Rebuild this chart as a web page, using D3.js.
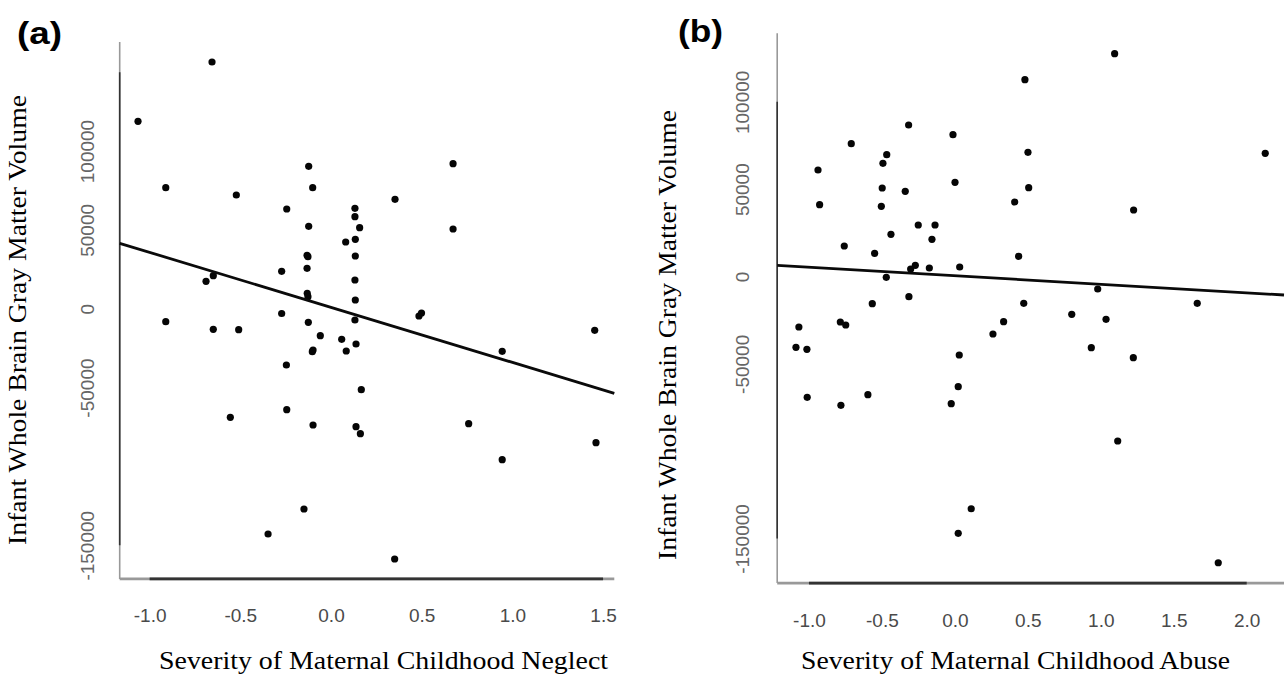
<!DOCTYPE html>
<html>
<head>
<meta charset="utf-8">
<script src="https://cdn.jsdelivr.net/npm/d3@7"></script>
<style>
body { margin: 0; background: #fff; }
</style>
</head>
<body>
<script>
// (a) neglect
var neglectX = [-0.656,-1.064,-0.911,-0.522,-0.123,-0.101,-0.244,0.132,0.132,0.158,-0.123,0.081,0.134,-0.132,-0.127,0.134,
    -0.272,-0.132,-0.649,-0.689,0.132,-0.131,-0.127,0.134,-0.272,0.673,0.353,0.673,0.485,0.499,-0.911,-0.649,-0.509,-0.125,
    0.132,-0.059,0.059,0.138,-0.099,-0.103,0.084,-0.246,0.167,-0.244,-0.555,-0.099,0.138,0.162,-0.149,-0.347,1.454,0.944,
    0.759,1.461,0.944,0.351];
var neglectY = [156460,118850,76740,72110,90310,76740,63230,63670,58350,51370,52260,42300,44010,33870,32980,33420,
    23720,25620,20930,17380,18200,9770,7610,5520,-3040,91960,69380,50550,-4630,-2730,-8240,-13060,-13320,-8630,
    -7170,-17120,-19410,-22390,-26190,-27270,-26830,-35700,-51370,-64050,-68870,-73760,-74830,-79270,-127030,-142880,-13700,-27020,
    -72930,-84980,-95760,-158740];
var neglectFit = [840, -34885]; //intercept, slope

// (b) abuse
var abuseX = [0.480,-0.317,-0.013,-0.710,-0.467,-0.493,-0.938,0.501,-0.498,-0.340,0.001,0.506,-0.927,-0.504,0.410,-0.251,
    -0.136,-0.438,-0.157,-0.758,-0.550,0.437,-0.271,-0.303,-0.175,0.033,-0.470,-0.315,-0.566,0.472,1.095,2.127,1.225,0.979,
    1.661,-1.069,-0.785,-0.748,-1.089,-1.014,0.334,0.261,0.030,0.023,-0.025,-1.012,-0.781,-0.596,0.112,0.023,0.801,1.036,
    0.935,1.223,1.116,1.805];
var abuseY = [112690,86750,81200,76040,69740,64820,60980,71120,50680,48790,53940,50850,41110,40200,42660,29490,
    29490,24160,21300,17460,13280,11570,6410,4290,4870,5440,-460,-11570,-15570,-15350,127580,70540,38080,-7160,
    -15350,-28920,-26050,-27770,-40540,-41690,-25880,-32920,-44950,-63100,-72830,-69170,-73750,-67680,-132960,-147050,-21640,-24510,
    -40770,-46500,-94190,-163880];
var abuseFit = [450, -4893];

var xTicksA = [-1.0, -0.5, 0.0, 0.5, 1.0, 1.5];
var xTicksB = [-1.0, -0.5, 0.0, 0.5, 1.0, 1.5, 2.0];
var yLabels = [-150000, -50000, 0, 50000, 100000];
var yAxisSpanA = [-150000, 150000];
var yAxisSpanB = [-150000, 100000];

function ScatterPanel() {
    var _svg = undefined;

    //R style: data range padded by 4% on each side.
    var _padDomain = function(values) {
        var ext = d3.extent(values);
        var pad = (ext[1] - ext[0]) * 0.04;
        return [ext[0] - pad, ext[1] + pad];
    };//EndFunction.

    function build(svg, opt) {
        _svg = svg;
        var x = d3.scaleLinear().domain(_padDomain(opt.xs)).range([opt.left, opt.right]);
        var y = d3.scaleLinear().domain(_padDomain(opt.ys)).range([opt.bottom, opt.top]);
        var g = _svg.append("g");

        //L frame, light where it runs past the ticks.
        g.append("line").attr("x1", opt.left).attr("y1", opt.top).attr("x2", opt.left).attr("y2", opt.bottom)
            .style("stroke", "#999").style("stroke-width", 1.6);
        g.append("line").attr("x1", opt.left).attr("y1", opt.bottom).attr("x2", opt.right).attr("y2", opt.bottom)
            .style("stroke", "#999").style("stroke-width", 2.6);
        g.append("line").attr("x1", opt.left).attr("y1", y(opt.ySpan[0])).attr("x2", opt.left).attr("y2", y(opt.ySpan[1]))
            .style("stroke", "#333").style("stroke-width", 1.6);
        g.append("line").attr("x1", x(opt.xTicks[0])).attr("y1", opt.bottom)
            .attr("x2", x(opt.xTicks[opt.xTicks.length - 1])).attr("y2", opt.bottom)
            .style("stroke", "#333").style("stroke-width", 2.6);

        //X AXIS.
        var xa = g.append("g").attr("transform", "translate(0," + opt.bottom + ")")
            .call(d3.axisBottom(x).tickValues(opt.xTicks).tickSize(0).tickPadding(opt.xPad)
                .tickFormat(function(d) { return d.toFixed(1); }));
        xa.select(".domain").remove();
        xa.selectAll("text").attr("font-family", "'Liberation Sans', Arial, sans-serif")
            .attr("font-size", "19px").attr("fill", "#4a4a4a");

        //Y AXIS (labels turned).
        var ya = g.append("g").attr("transform", "translate(" + opt.left + ",0)")
            .call(d3.axisLeft(y).tickValues(yLabels).tickSize(0).tickFormat(function(d) { return String(d); }));
        ya.select(".domain").remove();
        ya.selectAll("text").attr("x", null).attr("dy", null).attr("text-anchor", "middle")
            .attr("transform", "translate(" + (-opt.yPad) + ",0) rotate(-90)")
            .attr("font-family", "'Liberation Sans', Arial, sans-serif")
            .attr("font-size", "19px").attr("fill", "#666");

        //POINTS.
        var pts = opt.xs.map(function(v, i) { return { x: v, y: opt.ys[i] }; });
        g.selectAll("circle.pt").data(pts).enter().append("circle").attr("class", "pt")
            .attr("cx", function(d) { return x(d.x); }).attr("cy", function(d) { return y(d.y); })
            .attr("r", 3.6).style("fill", "#050505");

        //FIT LINE.
        var x0 = x.domain()[0], x1 = x.domain()[1];
        g.append("line")
            .attr("x1", x(x0)).attr("y1", y(opt.fit[0] + opt.fit[1] * x0))
            .attr("x2", x(x1)).attr("y2", y(opt.fit[0] + opt.fit[1] * x1))
            .style("stroke", "#0a0a0a").style("stroke-width", 2.8);

        //TITLES.
        g.append("text").text(opt.xTitle).attr("x", opt.xTitlePos[0]).attr("y", opt.xTitlePos[1])
            .attr("text-anchor", "middle").attr("font-family", "'Liberation Serif', 'Times New Roman', serif")
            .attr("font-size", "26px").attr("textLength", opt.xTitleLen).attr("lengthAdjust", "spacingAndGlyphs");
        g.append("text").text("Infant Whole Brain Gray Matter Volume")
            .attr("transform", "translate(" + opt.yTitlePos[0] + "," + opt.yTitlePos[1] + ") rotate(-90)")
            .attr("text-anchor", "middle").attr("font-family", "'Liberation Serif', 'Times New Roman', serif")
            .attr("font-size", "26px").attr("textLength", 450).attr("lengthAdjust", "spacingAndGlyphs");
        g.append("text").text(opt.tag).attr("x", opt.tagPos[0]).attr("y", opt.tagPos[1])
            .attr("font-family", "'Liberation Sans', Arial, sans-serif").attr("font-weight", "bold")
            .attr("font-size", "32px").attr("textLength", 45).attr("lengthAdjust", "spacingAndGlyphs");
    }//EndFunction.

    return build;
}//EndVizLibrary.

var svg = d3.select("body").append("svg").attr("width", 1287).attr("height", 678);

ScatterPanel()(svg, {
    xs: neglectX, ys: neglectY, fit: neglectFit, xTicks: xTicksA, ySpan: yAxisSpanA,
    left: 119.7, right: 614.3, top: 42.1, bottom: 578.9, xPad: 29.5, yPad: 25.5,
    xTitle: "Severity of Maternal Childhood Neglect", xTitlePos: [383.5, 669], xTitleLen: 449,
    yTitlePos: [26, 320], tag: "(a)", tagPos: [17, 43.5]
});
ScatterPanel()(svg, {
    xs: abuseX, ys: abuseY, fit: abuseFit, xTicks: xTicksB, ySpan: yAxisSpanB,
    left: 777.2, right: 1284, top: 33.3, bottom: 583.1, xPad: 30.3, yPad: 28.7,
    xTitle: "Severity of Maternal Childhood Abuse", xTitlePos: [1015.6, 669], xTitleLen: 429,
    yTitlePos: [676, 335], tag: "(b)", tagPos: [678, 42]
});
</script>
</body>
</html>
